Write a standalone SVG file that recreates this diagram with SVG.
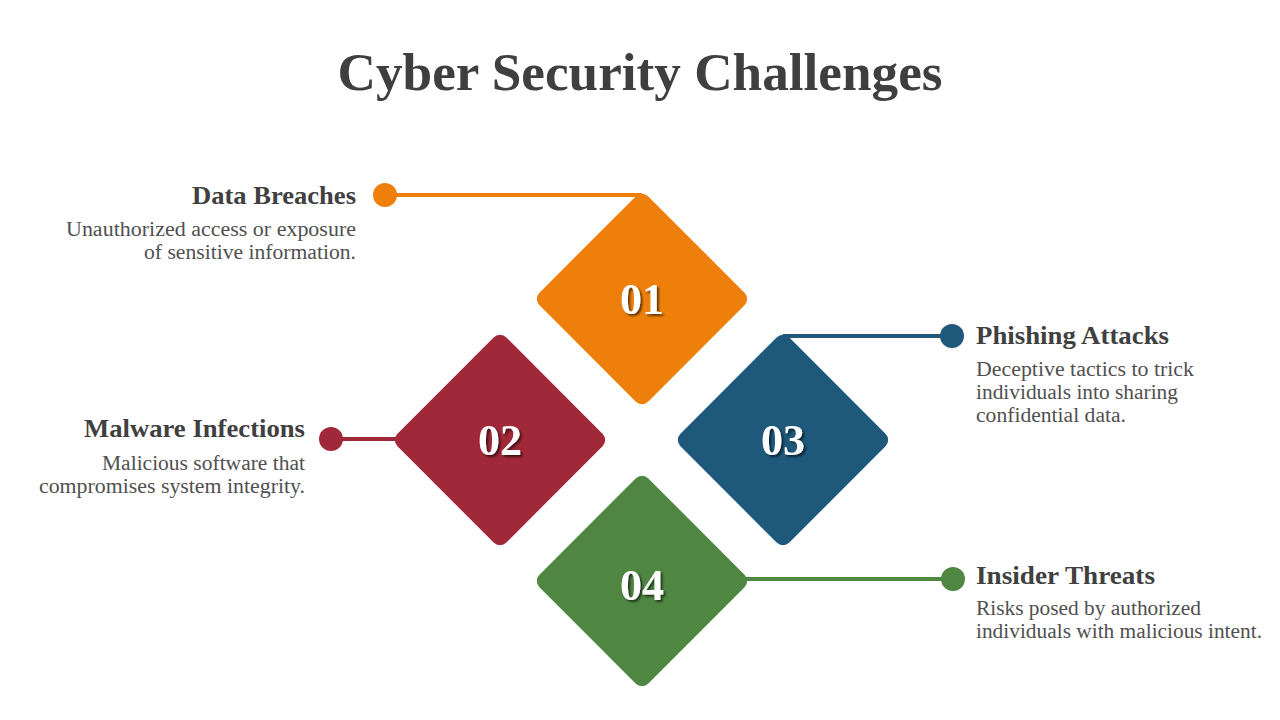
<svg xmlns="http://www.w3.org/2000/svg" width="1280" height="720" viewBox="0 0 1280 720">
<defs>
<style>
.title{font-family:"Liberation Serif","DejaVu Serif",serif;font-weight:bold;font-size:53px;fill:#3f3f3f}
.head{font-family:"Liberation Serif","DejaVu Serif",serif;font-weight:bold;font-size:25px;fill:#404040}
.desc{font-family:"Liberation Serif","DejaVu Serif",serif;font-size:20.5px;fill:#505050}
.num{font-family:"Liberation Serif","DejaVu Serif",serif;font-weight:bold;font-size:44px;fill:#ffffff;text-anchor:middle;filter:url(#sh)}
.ln{stroke-width:4;fill:none}
</style>
<filter id="sh" x="-20%" y="-20%" width="150%" height="150%">
<feDropShadow dx="2" dy="2" stdDeviation="1" flood-color="#000" flood-opacity="0.6"/>
</filter>
</defs>
<rect width="1280" height="720" fill="#ffffff"/>
<text class="title" x="640" y="90" text-anchor="middle" textLength="605" lengthAdjust="spacingAndGlyphs">Cyber Security Challenges</text>

<g id="connectors">
<line class="ln" x1="385" y1="195" x2="642" y2="195" stroke="#EF7F0B"/>
<circle cx="385" cy="195" r="12" fill="#EF7F0B"/>
<line class="ln" x1="783" y1="336" x2="952" y2="336" stroke="#1E587A"/>
<circle cx="952" cy="336" r="12" fill="#1E587A"/>
<line class="ln" x1="331" y1="439" x2="400" y2="439" stroke="#A12838"/>
<circle cx="331" cy="439" r="12" fill="#A12838"/>
<line class="ln" x1="740" y1="579" x2="953" y2="579" stroke="#4E8642"/>
<circle cx="953" cy="579" r="12" fill="#4E8642"/>
</g>

<g id="node01">
<rect x="-77" y="-77" width="154" height="154" rx="9" fill="#EF7F0B" transform="translate(642,299) rotate(45)"/>
<text class="num" x="642" y="314">01</text>
</g>
<g id="node02">
<rect x="-77" y="-77" width="154" height="154" rx="9" fill="#A12838" transform="translate(500,440) rotate(45)"/>
<text class="num" x="500" y="455">02</text>
</g>
<g id="node03">
<rect x="-77" y="-77" width="154" height="154" rx="9" fill="#1E587A" transform="translate(783,440) rotate(45)"/>
<text class="num" x="783" y="455">03</text>
</g>
<g id="node04">
<rect x="-77" y="-77" width="154" height="154" rx="9" fill="#4E8642" transform="translate(642,581) rotate(45)"/>
<text class="num" x="642" y="600">04</text>
</g>

<g id="label01" text-anchor="end">
<text class="head" x="356" y="204" textLength="164" lengthAdjust="spacingAndGlyphs">Data Breaches</text>
<text class="desc" x="356" y="236" textLength="290" lengthAdjust="spacingAndGlyphs">Unauthorized access or exposure</text>
<text class="desc" x="356" y="259" textLength="212" lengthAdjust="spacingAndGlyphs">of sensitive information.</text>
</g>
<g id="label02" text-anchor="end">
<text class="head" x="305" y="437" textLength="221" lengthAdjust="spacingAndGlyphs">Malware Infections</text>
<text class="desc" x="305" y="470" textLength="203" lengthAdjust="spacingAndGlyphs">Malicious software that</text>
<text class="desc" x="305" y="493" textLength="266" lengthAdjust="spacingAndGlyphs">compromises system integrity.</text>
</g>
<g id="label03">
<text class="head" x="976" y="344" textLength="193" lengthAdjust="spacingAndGlyphs">Phishing Attacks</text>
<text class="desc" x="976" y="376" textLength="218" lengthAdjust="spacingAndGlyphs">Deceptive tactics to trick</text>
<text class="desc" x="976" y="399" textLength="202" lengthAdjust="spacingAndGlyphs">individuals into sharing</text>
<text class="desc" x="976" y="422" textLength="150" lengthAdjust="spacingAndGlyphs">confidential data.</text>
</g>
<g id="label04">
<text class="head" x="976" y="584" textLength="179" lengthAdjust="spacingAndGlyphs">Insider Threats</text>
<text class="desc" x="976" y="615" textLength="225" lengthAdjust="spacingAndGlyphs">Risks posed by authorized</text>
<text class="desc" x="976" y="638" textLength="286" lengthAdjust="spacingAndGlyphs">individuals with malicious intent.</text>
</g>
</svg>
